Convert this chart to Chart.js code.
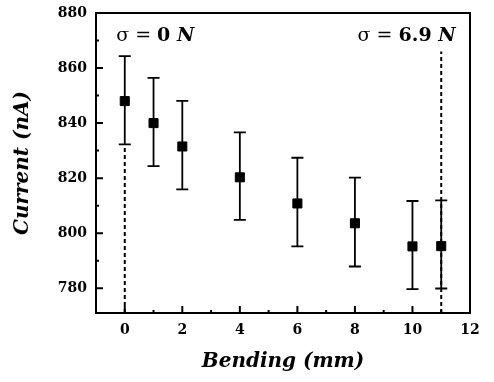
<!DOCTYPE html>
<html>
<head>
<meta charset="utf-8">
<script src="https://cdn.jsdelivr.net/npm/chart.js@4.4.0/dist/chart.umd.min.js"></script>
<style>
	html, body { margin: 0; padding: 0; background: #fff; }
</style>
</head>
<body>
<canvas id="cur" width="494" height="382"></canvas>
<script>
// bending (mm) vs current (nA), error bars in nA
var bending = [0, 1, 2, 4, 6, 8, 10, 11];
var current = [848, 840, 831.5, 820.3, 810.8, 803.6, 795.2, 795.3];
var errUp = [16.3, 16.4, 16.6, 16.3, 16.6, 16.6, 16.5, 16.6];
var errDown = [15.7, 15.6, 15.6, 15.5, 15.6, 15.7, 15.5, 15.4];

var xTicks = [0, 2, 4, 6, 8, 10, 12];
var yTicks = [780, 800, 820, 840, 860, 880];

// dashed markers at the two ends
var dashX = [0, 11];
var dashTop = [832, 866];

var xMin = -1, xMax = 12, yMin = 771, yMax = 880;

var points = [];
for (var i in bending) {
	points.push({x: bending[i], y: current[i]});
}

var dashSets = [];
for (var j in dashX) {
	dashSets.push({
		type: 'line',
		data: [{x: dashX[j], y: yMin}, {x: dashX[j], y: dashTop[j]}],
		borderColor: '#000',
		borderWidth: 2,
		borderDash: [4, 3],
		pointRadius: 0,
		fill: false
	});
}

var errorBars = {
	id: 'errorBars',
	beforeDatasetsDraw: function(chart) {
		var ctx = chart.ctx;
		var xs = chart.scales.x, ys = chart.scales.y;
		ctx.save();
		ctx.strokeStyle = '#000';
		ctx.lineWidth = 1.8;
		for (var i = 0; i < bending.length; i++) {
			var px = xs.getPixelForValue(bending[i]);
			var top = ys.getPixelForValue(current[i] + errUp[i]);
			var bot = ys.getPixelForValue(current[i] - errDown[i]);
			ctx.beginPath();
			ctx.moveTo(px, top); ctx.lineTo(px, bot);
			ctx.moveTo(px - 6, top); ctx.lineTo(px + 6, top);
			ctx.moveTo(px - 6, bot); ctx.lineTo(px + 6, bot);
			ctx.stroke();
		}
		ctx.restore();
	}
};

var frame = {
	id: 'frame',
	afterDraw: function(chart) {
		var ctx = chart.ctx;
		var a = chart.chartArea;
		var xs = chart.scales.x, ys = chart.scales.y;
		ctx.save();
		ctx.strokeStyle = '#000';
		ctx.lineWidth = 2;
		ctx.strokeRect(a.left, a.top, a.right - a.left, a.bottom - a.top);
		ctx.beginPath();
		for (var i = 0; i < xTicks.length; i++) {
			var px = xs.getPixelForValue(xTicks[i]);
			ctx.moveTo(px, a.bottom); ctx.lineTo(px, a.bottom - 7);
			if (i > 0) {
				var mx = xs.getPixelForValue((xTicks[i] + xTicks[i - 1]) / 2);
				ctx.moveTo(mx, a.bottom); ctx.lineTo(mx, a.bottom - 3);
			}
		}
		for (var k = 0; k < yTicks.length; k++) {
			var py = ys.getPixelForValue(yTicks[k]);
			ctx.moveTo(a.left, py); ctx.lineTo(a.left + 7, py);
			if (k > 0) {
				var my = ys.getPixelForValue((yTicks[k] + yTicks[k - 1]) / 2);
				ctx.moveTo(a.left, my); ctx.lineTo(a.left + 3, my);
			}
		}
		ctx.stroke();

		// sigma labels
		drawParts(ctx, xs.getPixelForValue(-0.3), ys.getPixelForValue(869.8), 'left',
			[['σ = ', 'normal 19px "DejaVu Serif"'], ['0', 'bold 19px "DejaVu Serif"'], [' N', 'italic bold 19px "DejaVu Serif"']]);
		drawParts(ctx, xs.getPixelForValue(11.5), ys.getPixelForValue(869.8), 'right',
			[['σ = ', 'normal 19px "DejaVu Serif"'], ['6.9', 'bold 19px "DejaVu Serif"'], [' N', 'italic bold 19px "DejaVu Serif"']]);
		ctx.restore();
	}
};

function drawParts(ctx, x, y, align, parts) {
	var total = 0, w = [];
	for (var i = 0; i < parts.length; i++) {
		ctx.font = parts[i][1];
		w.push(ctx.measureText(parts[i][0]).width);
		total += w[i];
	}
	var cx = align === 'right' ? x - total : x;
	ctx.fillStyle = '#000';
	ctx.textBaseline = 'alphabetic';
	ctx.textAlign = 'left';
	for (var k = 0; k < parts.length; k++) {
		ctx.font = parts[k][1];
		ctx.fillText(parts[k][0], cx, y);
		cx += w[k];
	}
}

var tickFont = {family: '"DejaVu Serif"', size: 14, weight: 'bold'};

var ctx = document.getElementById('cur');
var curGraph = new Chart(ctx, {
	type: 'scatter',
	data: {
		datasets: [{
			label: 'Current',
			data: points,
			backgroundColor: '#000',
			borderColor: '#000',
			pointStyle: 'rect',
			pointRadius: 6.4,
			pointHoverRadius: 6.4
		}].concat(dashSets)
	},
	options: {
		responsive: false,
		animation: false,
		layout: {padding: {top: 13, right: 24, left: 0, bottom: 0}},
		plugins: {legend: {display: false}, tooltip: {enabled: false}},
		scales: {
			x: {
				type: 'linear',
				min: xMin, max: xMax,
				afterBuildTicks: function(s) { s.ticks = xTicks.map(function(v) { return {value: v}; }); },
				afterFit: function(s) { s.height = 69; s.paddingLeft = 0; s.paddingRight = 0; },
				grid: {display: false, drawTicks: false},
				border: {display: false},
				ticks: {color: '#000', font: tickFont, padding: 9},
				title: {display: true, text: 'Bending (mm)', color: '#000',
					font: {family: '"DejaVu Serif"', size: 20, weight: 'bold', style: 'italic'},
					padding: {top: 0, bottom: 8}}
			},
			y: {
				min: yMin, max: yMax,
				afterBuildTicks: function(s) { s.ticks = yTicks.map(function(v) { return {value: v}; }); },
				afterFit: function(s) { s.width = 96; s.paddingTop = 0; s.paddingBottom = 0; },
				grid: {display: false, drawTicks: false},
				border: {display: false},
				ticks: {color: '#000', font: tickFont, padding: 9},
				title: {display: true, text: 'Current (nA)', color: '#000',
					font: {family: '"DejaVu Serif"', size: 20, weight: 'bold', style: 'italic'},
					padding: {top: 11, bottom: 0}}
			}
		}
	},
	plugins: [errorBars, frame]
});
</script>
</body>
</html>
